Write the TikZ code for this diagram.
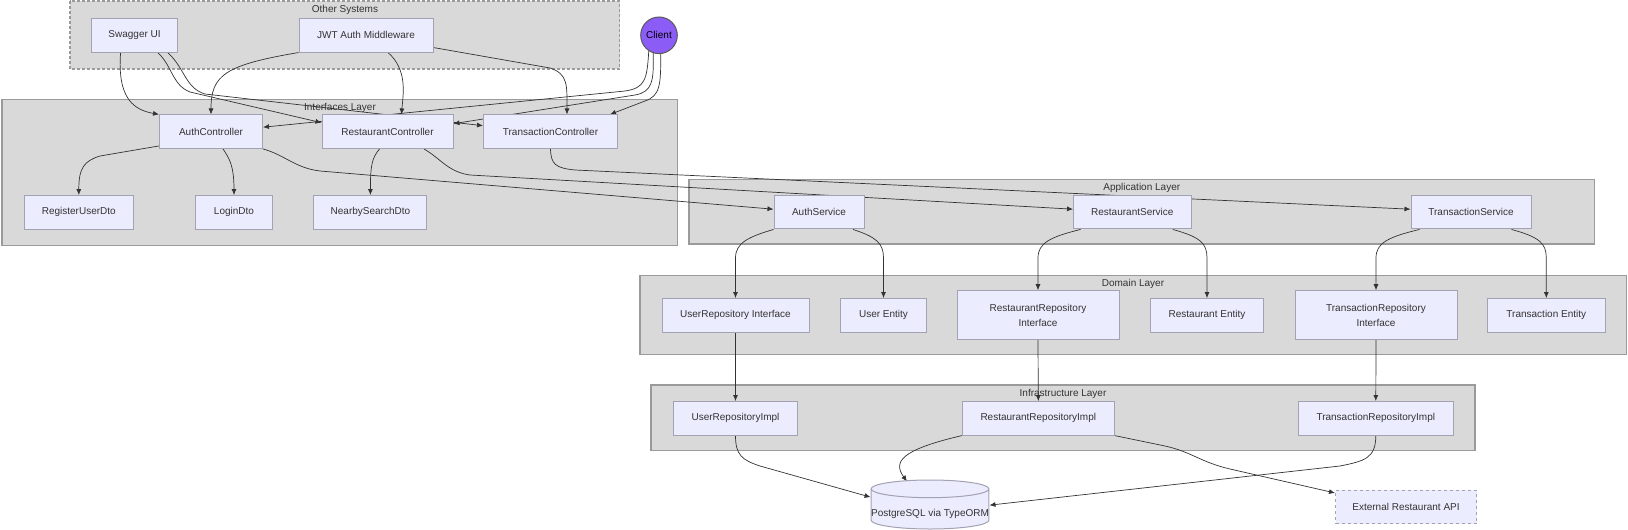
\documentclass[tikz,border=0pt]{standalone}
\usepackage{fontspec}
\setmainfont{Liberation Sans}
\usepackage{tikz}
\usetikzlibrary{arrows.meta,shapes.geometric,calc,positioning}
\definecolor{nodefill}{HTML}{ECECFF}
\definecolor{nodeline}{HTML}{A2A2B2}
\definecolor{tierfill}{HTML}{D9D9D9}
\definecolor{tierline}{HTML}{9A9A9A}
\definecolor{inkgrey}{HTML}{333333}
\definecolor{clientfill}{HTML}{8B5CF6}
\tikzstyle{comp}=[rectangle, draw=nodeline, fill=nodefill, line width=1pt, minimum height=33.5pt, inner sep=0pt, text=inkgrey, font=\fontsize{10}{15}\selectfont, align=center]
\newcommand{\comp}{\node[comp]}
\tikzstyle{tier}=[draw=tierline, fill=tierfill, line width=1.5pt]
\tikzstyle{tiertitle}=[text=inkgrey, font=\fontsize{10}{12}\selectfont, inner sep=0pt]
\tikzstyle{flow}=[draw=inkgrey, line width=0.7pt, -{Latex[length=6pt,width=5pt]}]
\tikzstyle{db}=[cylinder, shape border rotate=90, aspect=0.15, draw=nodeline, fill=nodefill, line width=1pt, minimum width=116.5pt, minimum height=49pt, inner sep=0pt, text=inkgrey, font=\fontsize{10}{12}\selectfont, anchor=shape center]
\tikzstyle{client}=[circle, draw=black!65, fill=clientfill, line width=1pt, minimum size=36.6pt, inner sep=0pt, font=\fontsize{10}{12}\selectfont]
\pgfdeclarelayer{back}
\pgfdeclarelayer{wires}
\pgfsetlayers{back,wires,main}

\begin{document}
\begin{tikzpicture}[x=1pt,y=-1pt]
            \useasboundingbox (0,0) rectangle (1628,530);

            % layers
            \begin{pgfonlayer}{back}
            \draw[tier, dashed, dash pattern=on 3pt off 2pt] (70,1) rectangle (619.6,69);
            \node[tiertitle] (othertitle) at (345,9.5) {Other Systems};
            \draw[tier] (2,99.3) rectangle (677.7,245.7);
            \node[tiertitle] (ifacetitle) at (340,108) {Interfaces Layer};
            \draw[tier] (689,179.3) rectangle (1594.6,244);
            \node[tiertitle] (apptitle) at (1141.8,188.3) {Application Layer};
            \draw[tier] (640,275.3) rectangle (1626.5,354.3);
            \node[tiertitle] (domaintitle) at (1133,283.5) {Domain Layer};
            \draw[tier] (651,385) rectangle (1475,450.7);
            \node[tiertitle] (infratitle) at (1063,394) {Infrastructure Layer};
            \end{pgfonlayer}

            \comp (swagger) at (134.6,35.3) [minimum width=86pt] {Swagger UI};
            \comp (jwt) at (366,35.3) [minimum width=134pt] {JWT Auth Middleware};
            \node[client] (client) at (659,35.3) {Client};

            \comp (authctrl) at (211,131.7) [minimum width=103pt] {AuthController};
            \comp (restctrl) at (387.5,131.7) [minimum width=131pt] {RestaurantController};
            \comp (transctrl) at (550.5,131.7) [minimum width=134pt] {TransactionController};
            \comp (registerdto) at (78.8,212.3) [minimum width=108.5pt] {RegisterUserDto};
            \comp (logindto) at (234,212.3) [minimum width=77pt] {LoginDto};
            \comp (nearbydto) at (370.4,212.3) [minimum width=113pt] {NearbySearchDto};

            \comp (authsvc) at (819,212.2) [minimum width=90pt] {AuthService};
            \comp (restsvc) at (1132.3,212.2) [minimum width=117.5pt] {RestaurantService};
            \comp (transsvc) at (1471,212.2) [minimum width=120pt] {TransactionService};

            \comp (userrepo) at (735.5,315.3) [minimum width=147pt] {UserRepository Interface};
            \comp (userent) at (883.5,315.3) [minimum width=86pt] {User Entity};
            \comp (restrepo) at (1038,315) [minimum width=162pt, minimum height=48.6pt] {RestaurantRepository\\Interface};
            \comp (restent) at (1207,315.3) [minimum width=113.6pt] {Restaurant Entity};
            \comp (transrepo) at (1376,315) [minimum width=162pt, minimum height=48.6pt] {TransactionRepository\\Interface};
            \comp (transent) at (1546.3,315.3) [minimum width=117.5pt] {Transaction Entity};

            \comp (userimpl) at (735.5,418.3) [minimum width=124pt] {UserRepositoryImpl};
            \comp (restimpl) at (1038.3,418.3) [minimum width=151.4pt] {RestaurantRepositoryImpl};
            \comp (transimpl) at (1375.8,418.3) [minimum width=154.5pt] {TransactionRepositoryImpl};

            \node[db] (postgres) at (930,504.5) {\rule{0pt}{16pt}PostgreSQL via TypeORM};
            \comp (extapi) at (1406,507.2) [minimum width=141pt, dashed] {External Restaurant API};

            % connectors
            \begin{pgfonlayer}{wires}
            \draw[flow] ($(swagger.south)+(-14,0)$) .. controls (117,100) and (135,110) .. (authctrl.north west);
            \draw[flow] ($(swagger.south)+(23,0)$) .. controls (172,65) and (172,85) .. (190,92) -- ($(restctrl.west)+(0,-9)$);
            \draw[flow] ($(swagger.south)+(33,0)$) .. controls (185,68) and (185,88) .. (205,94) -- ($(transctrl.west)+(0,-6)$);
            \draw[flow] (jwt.south west) .. controls (225,65) and (211,75) .. (authctrl.north);
            \draw[flow] ($(jwt.south)+(22,0)$) .. controls (408,70) and (403,95) .. ($(restctrl.north)+(14,0)$);
            \draw[flow] ($(jwt.south east)+(0,-5)$) -- (550,68) .. controls (568,74) and (567,85) .. ($(transctrl.north)+(16.5,0)$);
            \draw[flow] (client.237) .. controls (647,80) and (645,88) .. (625,91) -- ($(authctrl.east)+(0,-4.5)$);
            \draw[flow] (client.252) .. controls (654,82) and (652,92) .. (635,95) -- ($(restctrl.east)+(0,-8)$);
            \draw[flow] (client.275) .. controls (661,85) and (660,96) .. (645,101) -- ($(transctrl.north east)+(-8,0)$);

            \draw[flow] ($(authctrl.south west)+(0,-3)$) -- (100,156) .. controls (84,161) and (78.8,168) .. (registerdto.north);
            \draw[flow] ($(authctrl.south)+(12,0)$) .. controls (229,158) and (234,165) .. (logindto.north);
            \draw[flow] (authctrl.south east) .. controls (285,155) and (295,168) .. (320,171) -- ($(authsvc.west)+(0,-3)$);
            \draw[flow] ($(restctrl.south)+(-8,0)$) .. controls (372,158) and (370.4,165) .. (nearbydto.north);
            \draw[flow] ($(restctrl.south)+(36.5,0)$) .. controls (440,158) and (448,172) .. (470,175) -- ($(restsvc.west)+(0,-3)$);
            \draw[flow] (transctrl.south) .. controls (551,164) and (555,168) .. (575,170) -- ($(transsvc.west)+(0,-3)$);

            \draw[flow] (authsvc.south west) .. controls (748,237) and (735.5,243) .. (735.5,258) -- (userrepo.north);
            \draw[flow] ($(authsvc.south)+(34,0)$) .. controls (876,237) and (883.5,243) .. (883.5,258) -- (userent.north);
            \draw[flow] ($(restsvc.south west)+(7.5,0)$) .. controls (1050,237) and (1038,243) .. (1038,258) -- (restrepo.north);
            \draw[flow] ($(restsvc.south)+(40.5,0)$) .. controls (1200,237) and (1207,243) .. (1207,258) -- (restent.north);
            \draw[flow] ($(transsvc.south west)+(9,0)$) .. controls (1388,237) and (1376,243) .. (1376,258) -- (transrepo.north);
            \draw[flow] ($(transsvc.south)+(40.5,0)$) .. controls (1539,237) and (1546.3,243) .. (1546.3,258) -- (transent.north);

            \draw[flow] (userrepo.south) -- (userimpl.north);
            \draw[flow] (restrepo.south) -- (restimpl.north);
            \draw[flow] (transrepo.south) -- (transimpl.north);

            \draw[flow] (userimpl.south) .. controls (735.5,455) and (742,460) .. (760,466) -- ($(postgres.west)+(0,-12)$);
            \draw[flow] (restimpl.south west) .. controls (900,450) and (893,462) .. ($(postgres.north)+(-23,2)$);
            \draw[flow] (transimpl.south) .. controls (1375.8,458) and (1365,461) .. (1340,466) -- ($(postgres.east)+(0,-4)$);
            \draw[flow] (restimpl.south east) -- (1165,446) .. controls (1192,452) and (1200,462) .. (1230,469) -- ($(extapi.north west)+(0,3)$);
            \end{pgfonlayer}
        \end{tikzpicture}
\end{document}
